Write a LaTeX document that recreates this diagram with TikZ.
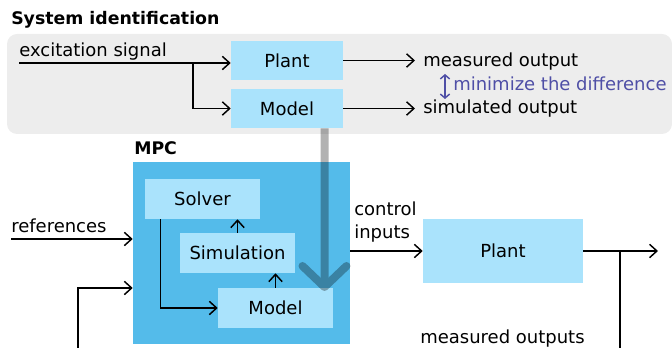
\documentclass[tikz,border=0pt]{standalone}
\usepackage{fontspec}
\setmainfont{DejaVu Sans}
\usetikzlibrary{arrows.meta}
\definecolor{panelgray}{HTML}{EDEDED}
\definecolor{mpcblue}{HTML}{54BBEA}
\definecolor{boxblue}{HTML}{AAE3FC}
\definecolor{notecol}{HTML}{4F4FA6}
\begin{document}
\begin{tikzpicture}[x=0.75pt,y=-0.75pt,
  font=\fontsize{13.5}{17.25}\selectfont,
  blk/.style={fill=boxblue, inner sep=0pt},
  lbl/.style={inner sep=0pt},
  heading/.style={inner sep=0pt, font=\fontsize{13}{16}\selectfont\bfseries},
  arr/.style={line width=1.1pt, -{Straight Barb[length=5.5pt,width=10pt,line width=1.1pt]}},
  wire/.style={line width=1.1pt}]
\useasboundingbox (0,0) rectangle (672,348);

% system identification panel
\fill[panelgray, rounded corners=7.5pt] (7,34) rectangle (672,134);
\node[heading, anchor=base west] (sysid) at (11,25) {System identification};
\node[blk, minimum width=84pt, minimum height=29.25pt] (sysPlant) at (287,60.5) {Plant};
\node[blk, minimum width=84pt, minimum height=29.25pt] (sysModel) at (287,108.5) {Model};
\node[lbl, anchor=base west] (excite) at (19,57) {excitation signal};
\coordinate (exc) at (19,63);
\coordinate (split) at (193,63);
\draw[arr] (exc) -- (exc -| sysPlant.west);
\draw[arr] (split) |- (sysModel.west);
\node[lbl, anchor=base west] (measured) at (423,67) {measured output};
\node[lbl, anchor=base west] (simulated) at (423,114) {simulated output};
\draw[arr] (sysPlant.east) -- ([xshift=-6pt]sysPlant.east -| measured.west);
\draw[arr] (sysModel.east) -- ([xshift=-6pt]sysModel.east -| simulated.west);
\coordinate (diffTop) at (445,74);
\coordinate (diffBot) at (445,99);
\draw[notecol, line width=1.1pt, {Straight Barb[length=3pt,width=7pt]}-{Straight Barb[length=3pt,width=7pt]}] (diffTop) -- (diffBot);
\node[lbl, anchor=base west, text=notecol] (minimize) at (453,91) {minimize the difference};

% MPC block
\node[heading, anchor=base west] (mpclabel) at (134,155) {MPC};
\node[fill=mpcblue, inner sep=0pt, minimum width=162.75pt, minimum height=136.5pt] (mpc) at (241.5,253) {};
\node[blk, minimum width=86.25pt, minimum height=30pt] (solver) at (202.5,199) {Solver};
\node[blk, minimum width=86.25pt, minimum height=30pt] (sim) at (237.5,253) {Simulation};
\node[blk, minimum width=86.25pt, minimum height=30pt] (model) at (275.5,308) {Model};
\draw[arr] (sim.north) -- (sim.north |- solver.south);
\draw[arr] (model.north) -- (model.north |- sim.south);
\draw[arr] ([xshift=12pt]solver.south west) |- (model.west);

% inputs to the controller
\node[lbl, anchor=base west] (refs) at (11,233) {references};
\coordinate (refin) at (11,239);
\draw[arr] (refin) -- (refin -| mpc.west);
\coordinate (fb) at (78,350);
\coordinate (fbturn) at (78,288);
\draw[arr] (fb) -- (fbturn) -- (fbturn -| mpc.west);

% controlled plant
\node[blk, minimum width=120pt, minimum height=48pt] (plant) at (503,251) {Plant};
\draw[arr] (mpc.east |- plant.west) -- (plant.west);
\node[lbl, anchor=base west] (ctrl) at (354,216) {control};
\node[lbl, anchor=base west] (ctrl2) at (354,239) {inputs};
\coordinate (out) at (658,251);
\coordinate (tap) at (620,251);
\coordinate (tapdown) at (620,350);
\draw[arr] (plant.east) -- (out);
\draw[wire] (tap) -- (tapdown);
\node[lbl, anchor=base west] (measout) at (420,344) {measured outputs};

% identified model handed down to the controller
\begin{scope}[transparency group, opacity=0.3]
  \draw[black, line width=6pt] (sysModel.south -| 324.5,0) -- (324.5,285);
  \draw[black, line width=6pt, line cap=round, line join=round] (302.5,266) -- (324.5,287) -- (346.5,266);
\end{scope}
\end{tikzpicture}
\end{document}
